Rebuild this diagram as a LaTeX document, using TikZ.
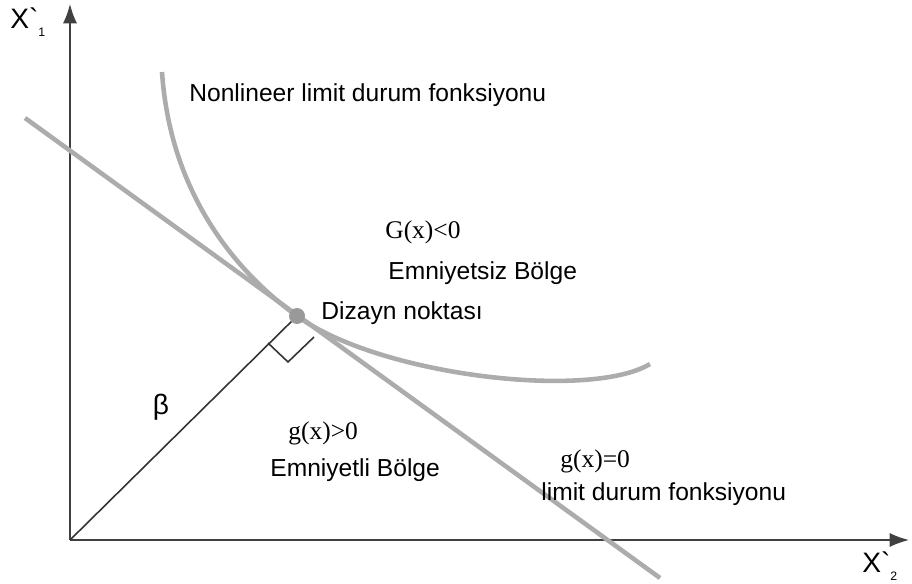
\documentclass[tikz,border=0pt]{standalone}
\usepackage{fontspec}
\setmainfont{Liberation Sans}
\newfontfamily\timesf{Liberation Serif}
\usetikzlibrary{arrows.meta}

\tikzset{
  axis/.style={draw=black!75, line width=0.9pt, -{Latex[length=11pt,width=8pt]}},
  limit/.style={draw=gray!65, line width=2.6pt},
  lbl/.style={inner sep=0pt, font=\fontsize{14}{16}\selectfont},
  eq/.style={inner sep=0pt, font=\timesf\fontsize{14.5}{16}\selectfont},
}

\begin{document}
\begin{tikzpicture}[x=0.02cm,y=-0.02cm]
  \useasboundingbox (0,0) rectangle (912,584);
  % axes
  \coordinate (O) at (70,540);
  \coordinate (ytip) at (70,4);
  \coordinate (xtip) at (909,540);
  \draw[axis] (O) -- (ytip);
  \draw[axis] (O) -- (xtip);
  \node[lbl, anchor=west] (x1) at (10,22) {\fontsize{16}{18}\selectfont X\textasciigrave\raisebox{-0.5ex}{\scriptsize 1}};
  \node[lbl, anchor=west] (x2) at (862,566) {\fontsize{16}{18}\selectfont X\textasciigrave\raisebox{-0.5ex}{\scriptsize 2}};
  % linear limit state g(x)=0
  \coordinate (L1) at (25,118);
  \coordinate (L2) at (660,578);
  \draw[limit] (L1) -- (L2);
  % nonlinear limit state, tangent at the design point
  \coordinate (C1) at (162,72);
  \coordinate (C2) at (650,364);
  \coordinate (D) at (297,316);
  \draw[limit] (C1) .. controls (170,190) and (232,269) .. (D)
    .. controls (380,376) and (590,400) .. (C2);
  % beta and right angle
  \draw[black!80, line width=0.9pt] (O) -- (D);
  \draw[black!80, line width=0.9pt] (268,343) -- (288,362) -- (314,337);
  \fill[gray!80] (D) circle (8);
  \node[lbl, anchor=west] (dp) at (321,313) {Dizayn noktası};
  \node[lbl] (beta) at (161,407) {\fontsize{16}{18}\selectfont β};
  % labels
  \node[lbl, anchor=west] (nl) at (189,95) {Nonlineer limit durum fonksiyonu};
  \node[eq, anchor=west] (G) at (385,232) {G(x)<0};
  \node[lbl, anchor=west] (eb) at (388,273) {Emniyetsiz Bölge};
  \node[eq, anchor=west] (gp) at (288,433) {g(x)>0};
  \node[lbl, anchor=west] (eli) at (270,470) {Emniyetli Bölge};
  \node[eq, anchor=west] (g0) at (560,461) {g(x)=0};
  \node[lbl, anchor=west] (ld) at (541,494) {limit durum fonksiyonu};
\end{tikzpicture}
\end{document}
